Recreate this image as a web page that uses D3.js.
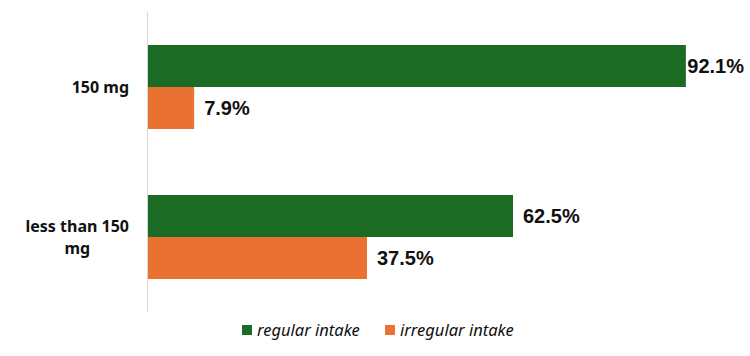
<!DOCTYPE html>
<html>
<head>
<meta charset="utf-8">
<script src="https://cdn.jsdelivr.net/npm/d3@7"></script>
<style>
  body { margin: 0; background: #fff; }
  .cat { font-family: "Noto Sans", sans-serif; font-weight: bold; font-size: 16px; fill: #111; }
  .val { font-family: "Liberation Sans", Arial, sans-serif; font-weight: bold; font-size: 20px; fill: #111; }
  .leg { font-family: "Noto Sans", sans-serif; font-style: italic; font-size: 16.5px; fill: #111; }
</style>
</head>
<body>
<div id="chart"></div>
<script>
// data
const categories = ["150 mg", "less than 150 mg"];
const seriesNames = ["regular intake", "irregular intake"];
const regularIntake = [92.1, 62.5];
const irregularIntake = [7.9, 37.5];
const colors = ["#1c6b24", "#e97132"];

const W = 750, H = 356;
const margin = {top: 12, right: 4, bottom: 44, left: 148};

const svg = d3.select("#chart").append("svg")
    .attr("width", W)
    .attr("height", H);

const rows = categories.map((c, i) => ({
    cat: c,
    vals: [regularIntake[i], irregularIntake[i]]
}));

const x = d3.scaleLinear().domain([0, 100]).range([margin.left, margin.left + 584]);

const y0 = d3.scaleBand()
    .domain(categories)
    .range([margin.top, H - margin.bottom])
    .paddingInner(0.44)
    .paddingOuter(0.22);

const y1 = d3.scaleBand()
    .domain(seriesNames)
    .range([0, y0.bandwidth()]);

// axis line
svg.append("line")
    .attr("x1", margin.left - 0.5).attr("x2", margin.left - 0.5)
    .attr("y1", margin.top).attr("y2", H - margin.bottom)
    .attr("stroke", "#d9d9d9").attr("stroke-width", 1);

const g = svg.selectAll(".grp")
    .data(rows)
    .join("g")
    .attr("class", "grp")
    .attr("transform", d => `translate(0,${y0(d.cat)})`);

g.selectAll("rect")
    .data(d => d.vals.map((v, j) => ({v, s: seriesNames[j], j})))
    .join("rect")
    .attr("x", x(0))
    .attr("y", d => y1(d.s))
    .attr("width", d => x(d.v) - x(0))
    .attr("height", y1.bandwidth())
    .attr("fill", d => colors[d.j]);

g.selectAll(".val")
    .data(d => d.vals.map((v, j) => ({v, s: seriesNames[j], j})))
    .join("text")
    .attr("class", "val")
    .attr("y", d => y1(d.s) + y1.bandwidth() / 2)
    .attr("dy", "0.35em")
    .text(d => d.v.toFixed(1) + "%")
    .attr("x", function(d) {
        const w = this.getComputedTextLength();
        return Math.min(x(d.v) + 10, W - 6 - w);
    });

// category labels
const catLines = {"150 mg": ["150 mg"], "less than 150 mg": ["less than 150", "mg"]};
svg.selectAll(".cat")
    .data(categories)
    .join("text")
    .attr("class", "cat")
    .attr("text-anchor", "middle")
    .each(function(c) {
        const lines = catLines[c];
        const t = d3.select(this);
        const cy = y0(c) + y0.bandwidth() / 2;
        const lh = 22;
        lines.forEach((l, i) => {
            t.append("tspan")
                .attr("x", 0)
                .attr("y", cy + (i - (lines.length - 1) / 2) * lh)
                .attr("dy", "0.35em")
                .text(l);
        });
    })
    .each(function() {
        const bb = this.getBBox();
        d3.select(this).attr("transform", `translate(${129 - bb.width / 2},0)`);
    });

// legend
const legend = svg.append("g").attr("transform", `translate(242,330)`);
const legX = [0, 143];
seriesNames.forEach((s, i) => {
    const lg = legend.append("g").attr("transform", `translate(${legX[i]},0)`);
    lg.append("rect").attr("x", 0).attr("y", -5).attr("width", 10).attr("height", 10).attr("fill", colors[i]);
    lg.append("text").attr("class", "leg").attr("x", 15).attr("y", 0).attr("dy", "0.35em").text(s);
});
</script>
</body>
</html>
